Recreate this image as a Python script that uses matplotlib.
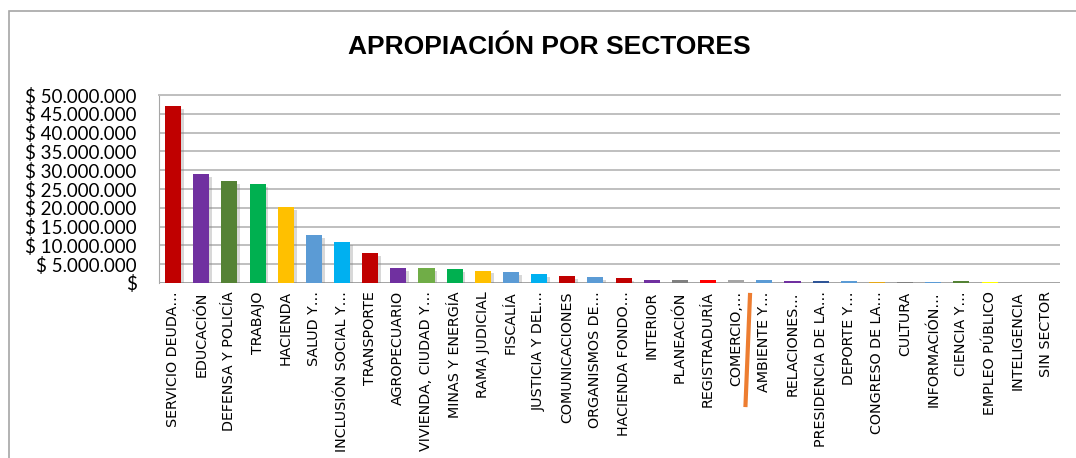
import numpy as np
import matplotlib
matplotlib.use('Agg')
import matplotlib.pyplot as plt
from matplotlib import patheffects
from matplotlib.ticker import FuncFormatter
from matplotlib.patches import Rectangle
from matplotlib.lines import Line2D

# Data (values in pesos)
sectores = ['SERVICIO DEUDA…', 'EDUCACIÓN', 'DEFENSA Y POLICÍA', 'TRABAJO', 'HACIENDA',
            'SALUD Y…', 'INCLUSIÓN SOCIAL Y…', 'TRANSPORTE', 'AGROPECUARIO',
            'VIVIENDA, CIUDAD Y…', 'MINAS Y ENERGÍA', 'RAMA JUDICIAL', 'FISCALÍA',
            'JUSTICIA Y DEL…', 'COMUNICACIONES', 'ORGANISMOS DE…', 'HACIENDA FONDO…',
            'INTERIOR', 'PLANEACIÓN', 'REGISTRADURÍA', 'COMERCIO,…', 'AMBIENTE Y…',
            'RELACIONES…', 'PRESIDENCIA DE LA…', 'DEPORTE Y…', 'CONGRESO DE LA…',
            'CULTURA', 'INFORMACIÓN…', 'CIENCIA Y…', 'EMPLEO PÚBLICO', 'INTELIGENCIA',
            'SIN SECTOR']
valores = [47100000, 29000000, 27100000, 26300000, 20200000,
           12800000, 10900000, 8000000, 4000000,
           3900000, 3700000, 3300000, 2900000,
           2400000, 1800000, 1500000, 1300000,
           750000, 700000, 700000, 700000, 700000,
           550000, 550000, 550000, 320000,
           300000, 320000, 450000, 320000, 30000,
           0]
colores = ['#C00000', '#7030A0', '#548235', '#00B050', '#FFC000',
           '#5B9BD5', '#00B0F0', '#C00000', '#7030A0',
           '#70AD47', '#00B050', '#FFC000', '#5B9BD5',
           '#00B0F0', '#C00000', '#5B9BD5', '#C00000',
           '#7030A0', '#808080', '#FF0000', '#A5A5A5', '#5B9BD5',
           '#7030A0', '#2F5597', '#5B9BD5', '#E6A817',
           '#808080', '#5B9BD5', '#548235', '#FFFF00', '#7F7F7F',
           '#7F7F7F']
ticks_y = [0, 5000000, 10000000, 15000000, 20000000, 25000000,
           30000000, 35000000, 40000000, 45000000, 50000000]

fig = plt.figure(figsize=(10.76, 4.58), dpi=100)
ax = fig.add_axes([159 / 1076, 1 - 283 / 458, (1060 - 159) / 1076, (283 - 95) / 458])

x = np.arange(len(sectores))
bars = ax.bar(x, valores, width=0.57, color=colores, zorder=3)
for b in bars:
    b.set_path_effects([patheffects.SimplePatchShadow(offset=(2, -2), shadow_rgbFace='#7f7f7f', alpha=0.3),
                        patheffects.Normal()])

ax.set_xlim(-0.5, len(sectores) - 0.5)
ax.set_ylim(0, 50000000)
ax.set_yticks(ticks_y)


def pesos(v, pos):
    if v == 0:
        return '$'
    return '$ ' + f'{int(v):,}'.replace(',', '.')


ax.yaxis.set_major_formatter(FuncFormatter(pesos))
ax.tick_params(axis='y', length=0, pad=16, labelsize=13.5)
for t in ax.get_yticklabels():
    t.set_fontfamily(['Lato', 'DejaVu Sans'])

ax.set_xticks(x)
ax.set_xticklabels(sectores, rotation=90, fontsize=10.3, family=['Liberation Sans Narrow', 'DejaVu Sans'],
                   va='top', ha='center')
ax.tick_params(axis='x', length=0, pad=6)

ax.grid(axis='y', color='#BFBFBF', linewidth=1.4, zorder=0)
ax.set_axisbelow(True)
for s in ['right', 'bottom']:
    ax.spines[s].set_visible(False)
ax.spines['left'].set_color('#A6A6A6')
ax.spines['top'].set_color('#BFBFBF')
ax.spines['top'].set_linewidth(1.4)
ax.axhline(0, color='#A6A6A6', linewidth=1.4, zorder=2)

fig.text(549 / 1076, 1 - 47 / 458, 'APROPIACIÓN POR SECTORES', ha='center', va='center',
         fontsize=19, fontweight='bold', family='Liberation Sans')

# outer chart border
fig.patches.append(Rectangle((9 / 1076, -0.1), 1.2, 1 - 11 / 458 + 0.1, transform=fig.transFigure,
                             fill=False, edgecolor='#A6A6A6', linewidth=1.2))
# orange stroke over the COMERCIO label
fig.lines.append(Line2D([750 / 1076, 745.5 / 1076], [1 - 295 / 458, 1 - 405 / 458],
                        transform=fig.transFigure, color='#ED7D31', linewidth=3))

fig.savefig('out.png', dpi=100)
